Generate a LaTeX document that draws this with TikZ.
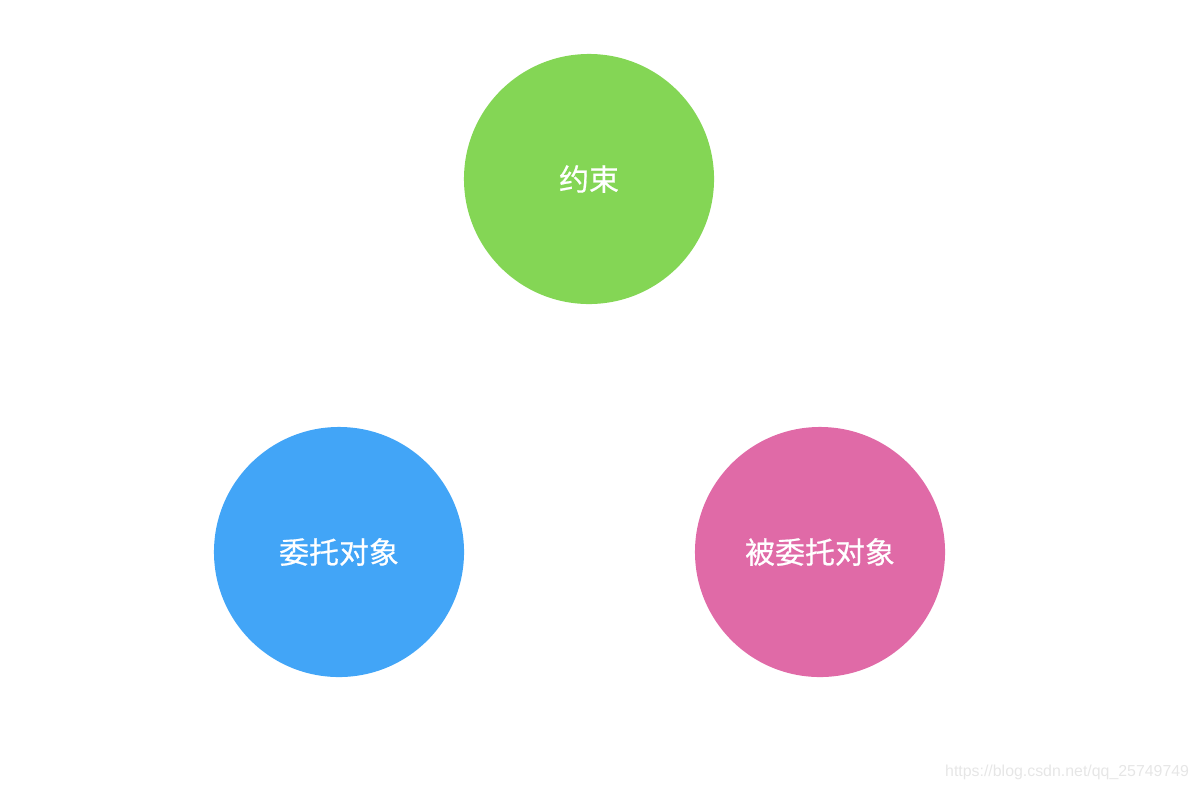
\documentclass[tikz,border=0pt]{standalone}
\usepackage{xcolor}
\usepackage{fontspec}
\setmainfont{Liberation Sans}
\newfontfamily\cjk[UprightFeatures={FakeBold=0.6}]{Noto Sans CJK SC}
\usepackage{tikz}

\definecolor{rulegreen}{HTML}{84D655}
\definecolor{clientblue}{HTML}{42A5F7}
\definecolor{targetpink}{HTML}{E06AA7}
\definecolor{markgray}{HTML}{E6E6E6}

\begin{document}
\begin{tikzpicture}[x=0.025cm,y=-0.025cm,
	ball/.style={circle,minimum size=6.25cm,inner sep=0pt,text=white,font=\cjk\fontsize{21.3}{25}\selectfont}]

\useasboundingbox (0,0) rectangle (1200,790);

\node[ball,fill=rulegreen] (rule) at (589, 179) {约束};
\node[ball,fill=clientblue] (client) at (339, 552) {委托对象};
\node[ball,fill=targetpink] (target) at (820, 552) {被委托对象};

\node[anchor=east,text=markgray,font=\fontsize{11.3}{13}\selectfont] (mark) at (1194, 772) {https://blog.csdn.net/qq\_25749749};

\end{tikzpicture}
\end{document}
